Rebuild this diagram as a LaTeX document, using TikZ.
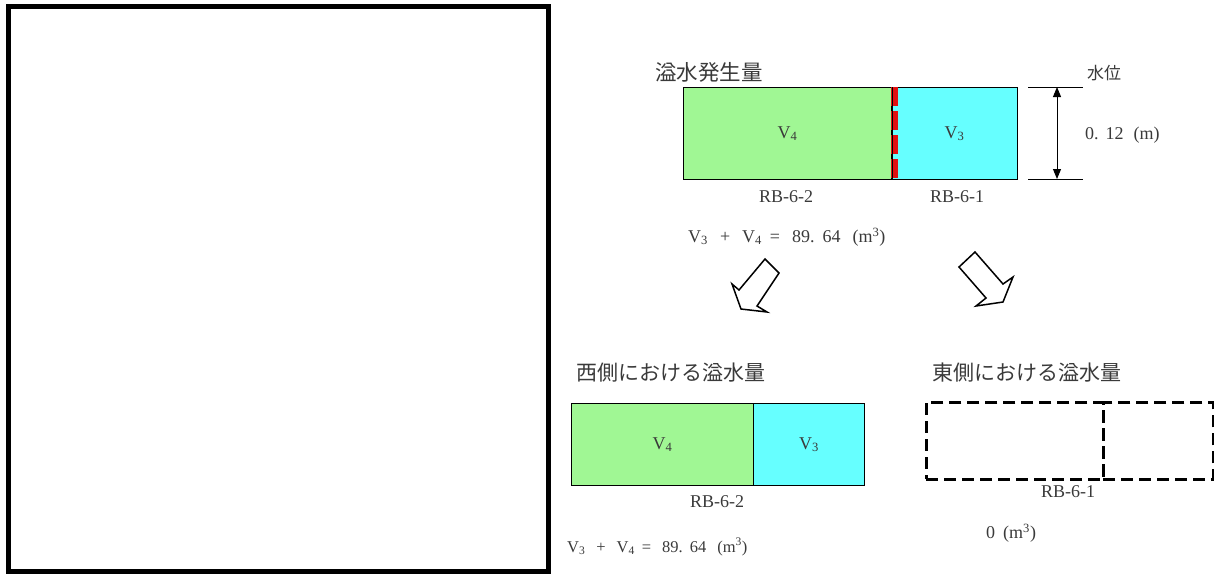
\documentclass[tikz,border=0pt]{standalone}
\usepackage{fontspec}
\setmainfont{Liberation Serif}
\newfontfamily\jpfont{Noto Sans CJK JP}
\usetikzlibrary{arrows.meta}
\definecolor{cellgreen}{HTML}{A0F794}
\definecolor{cellcyan}{HTML}{66FFFF}
\definecolor{txt}{HTML}{3A3A3A}
\definecolor{wallred}{HTML}{E01010}
\newcommand{\gp}{\hspace{12pt}}
\newcommand{\gq}{\hspace{11pt}}
\begin{document}
\begin{tikzpicture}[x=1pt,y=-1pt,
  cell/.style={draw=black, line width=1.2pt, inner sep=0pt, anchor=north west,
    text=txt, font=\fontsize{18}{18}\selectfont},
  dcell/.style={draw=black, line width=2.6pt, dash pattern=on 12pt off 6pt,
    inner sep=0pt, anchor=north west},
  lab/.style={text=txt, inner sep=0pt, font=\fontsize{18}{18}\selectfont},
  title/.style={text=txt, inner sep=0pt, anchor=west, font=\jpfont\fontsize{21}{21}\selectfont},
  blockarrow/.style={draw=black, line width=1.5pt, line join=miter, fill=white},
  dim/.style={draw=black, line width=1pt}
]
\useasboundingbox (0,0) rectangle (1214,574);
\fill[white] (0,0) rectangle (1214,574);

% left empty frame
\draw[line width=5pt] (8,6) rectangle (548,571);

% ---- top diagram
\node[title, font=\jpfont\fontsize{21.5}{21.5}\selectfont] (t1) at (655,72) {溢水発生量};
\node[cell, fill=cellgreen, minimum width=208pt, minimum height=92pt] (a4) at (683,87) {V\textsubscript{4}};
\node[cell, fill=cellcyan, minimum width=126pt, minimum height=92pt] (a3) at (891,87) {V\textsubscript{3}};
\draw[wallred, line width=7pt, dash pattern=on 19pt off 5pt] ([xshift=2.5pt]a4.north east) -- ([xshift=2.5pt]a4.south east);
\draw[line width=1pt] (a4.north east) -- (a4.south east);
\node[lab] (r2) at (786,197) {RB-6-2};
\node[lab] (r1) at (957,197) {RB-6-1};
\node[lab, anchor=west] (f1) at (688,237) {V\textsubscript{3}\gp+\gp V\textsubscript{4}\hspace{8pt}=\gp 89.\hspace{8pt}64\gp(m\textsuperscript{3})};

% dimension
\coordinate (d1) at (1028,87);
\coordinate (d2) at (1083,87);
\coordinate (d3) at (1028,179);
\coordinate (d4) at (1083,179);
\coordinate (dt) at (1057,87);
\coordinate (db) at (1057,179);
\draw[dim] (d1) -- (d2);
\draw[dim] (d3) -- (d4);
\draw[dim, {Triangle[width=8pt,length=10pt]}-{Triangle[width=8pt,length=10pt]}] (dt) -- (db);
\node[text=txt, inner sep=0pt, anchor=west, font=\jpfont\fontsize{17}{17}\selectfont] (wl) at (1087,73) {水位};
\node[lab, anchor=west] (wv) at (1085,135) {0.\hspace{7pt}12\hspace{10pt}(m)};

% block arrows
\draw[blockarrow] (765,259) -- (779,273) -- (757,306) -- (767,312) -- (741,309) -- (732,284) -- (739,290) -- cycle;
\draw[blockarrow] (959,267) -- (975,252) -- (1003,284) -- (1013,277) -- (1003,302) -- (976,306) -- (986,298) -- cycle;

% ---- bottom left
\node[title] (t2) at (576,373) {西側における溢水量};
\node[cell, fill=cellgreen, minimum width=182pt, minimum height=82pt] (b4) at (571,403) {V\textsubscript{4}};
\node[cell, fill=cellcyan, minimum width=111pt, minimum height=82pt] (b3) at (753,403) {V\textsubscript{3}};
\node[lab] (r3) at (717,502) {RB-6-2};
\node[lab, anchor=west, font=\fontsize{16.5}{16.5}\selectfont] (f2) at (567,547) {V\textsubscript{3}\gq+\gq V\textsubscript{4}\hspace{7pt}=\gq 89.\hspace{7pt}64\gq(m\textsuperscript{3})};

% ---- bottom right
\node[title] (t3) at (932,373) {東側における溢水量};
\node[dcell, minimum width=177pt, minimum height=77pt] (c4) at (925,401) {};
\node[dcell, minimum width=110pt, minimum height=77pt] (c3) at (1102,401) {};
\node[lab] (r4) at (1068,492) {RB-6-1};
\node[lab, anchor=west] (f3) at (986,533) {0\hspace{8pt}(m\textsuperscript{3})};
\end{tikzpicture}
\end{document}
